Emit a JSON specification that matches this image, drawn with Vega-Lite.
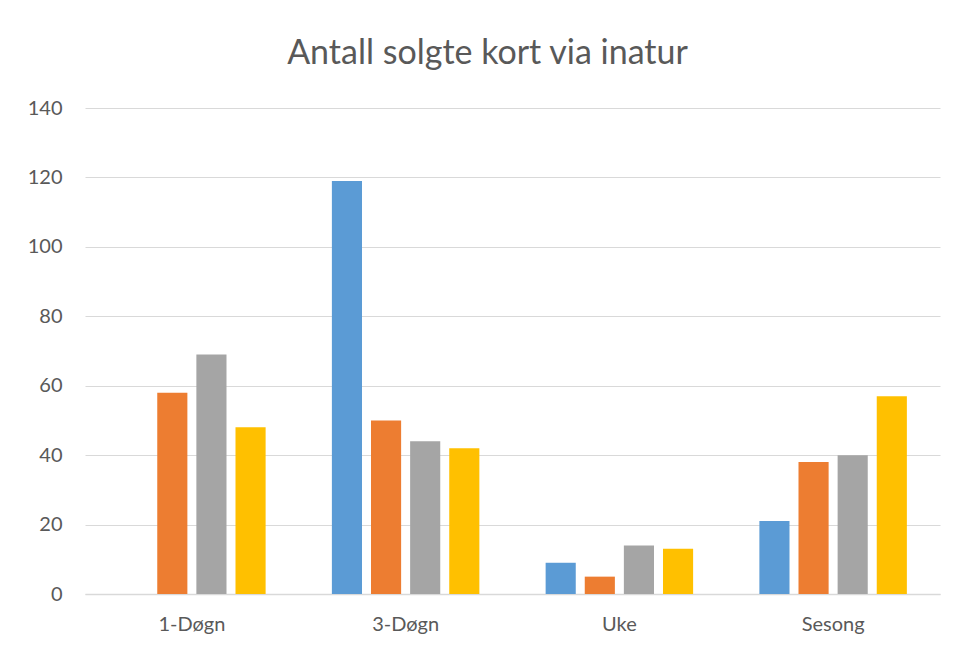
{
  "$schema": "https://vega.github.io/schema/vega-lite/v6.json",
  "width": 855,
  "height": 486,
  "autosize": "none",
  "padding": {"left": 85, "top": 108, "right": 16, "bottom": 53},
  "background": "white",
  "title": {
    "text": "Antall solgte kort via inatur",
    "fontSize": 34,
    "font": "Lato",
    "fontWeight": "normal",
    "color": "#595959",
    "anchor": "middle",
    "dx": -25,
    "offset": 27
  },
  "data": {
    "values": [
      {"kort": "1-Døgn", "serie": "Serie 1", "antall": 0},
      {"kort": "1-Døgn", "serie": "Serie 2", "antall": 58},
      {"kort": "1-Døgn", "serie": "Serie 3", "antall": 69},
      {"kort": "1-Døgn", "serie": "Serie 4", "antall": 48},
      {"kort": "3-Døgn", "serie": "Serie 1", "antall": 119},
      {"kort": "3-Døgn", "serie": "Serie 2", "antall": 50},
      {"kort": "3-Døgn", "serie": "Serie 3", "antall": 44},
      {"kort": "3-Døgn", "serie": "Serie 4", "antall": 42},
      {"kort": "Uke", "serie": "Serie 1", "antall": 9},
      {"kort": "Uke", "serie": "Serie 2", "antall": 5},
      {"kort": "Uke", "serie": "Serie 3", "antall": 14},
      {"kort": "Uke", "serie": "Serie 4", "antall": 13},
      {"kort": "Sesong", "serie": "Serie 1", "antall": 21},
      {"kort": "Sesong", "serie": "Serie 2", "antall": 38},
      {"kort": "Sesong", "serie": "Serie 3", "antall": 40},
      {"kort": "Sesong", "serie": "Serie 4", "antall": 57}
    ]
  },
  "mark": {"type": "bar"},
  "encoding": {
    "x": {
      "field": "kort",
      "type": "nominal",
      "sort": ["1-Døgn", "3-Døgn", "Uke", "Sesong"],
      "scale": {"paddingInner": 0.31, "paddingOuter": 0.155},
      "axis": {
        "title": null,
        "labelAngle": 0,
        "labelFontSize": 20,
        "labelFont": "Lato",
        "labelColor": "#595959",
        "labelPadding": 20,
        "ticks": false,
        "domainColor": "#d9d9d9",
        "domainWidth": 1.5,
        "grid": false
      }
    },
    "xOffset": {
      "field": "serie",
      "type": "nominal",
      "scale": {"paddingInner": 0.23, "paddingOuter": 0}
    },
    "y": {
      "field": "antall",
      "type": "quantitative",
      "scale": {"domain": [0, 140], "nice": false},
      "axis": {
        "title": null,
        "values": [0, 20, 40, 60, 80, 100, 120, 140],
        "labelFontSize": 20,
        "labelFont": "Lato",
        "labelColor": "#595959",
        "labelPadding": 23,
        "ticks": false,
        "domain": false,
        "gridColor": "#d9d9d9",
        "gridWidth": 1
      }
    },
    "color": {
      "field": "serie",
      "type": "nominal",
      "scale": {"range": ["#5B9BD5", "#ED7D31", "#A5A5A5", "#FFC000"]},
      "legend": null
    }
  },
  "config": {"view": {"stroke": null}}
}
